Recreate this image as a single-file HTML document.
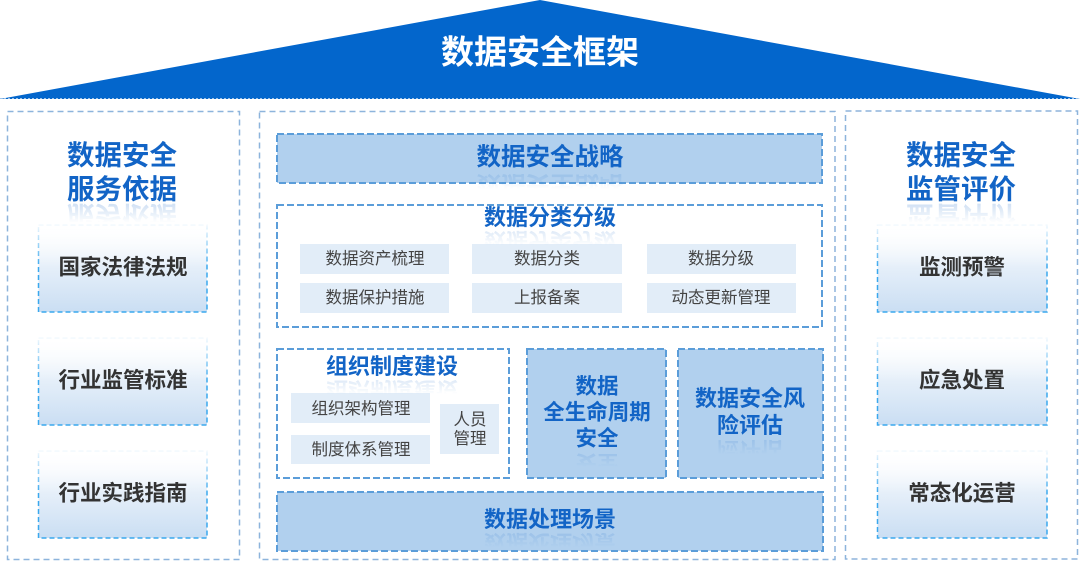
<!DOCTYPE html>
<html><head><meta charset="utf-8">
<style>
html,body{margin:0;padding:0;background:#fff;}
#c{position:relative;width:1080px;height:561px;overflow:hidden;background:#fff;font-family:"Liberation Sans","Noto Sans CJK SC",sans-serif;}
svg{position:absolute;left:0;top:0;}
.t{position:absolute;white-space:nowrap;line-height:1;transform:translate(-50%,-50%);}
.b{font-weight:700;color:#1264c6;}
.d{font-weight:700;color:#333;font-size:21.5px;}
.i{color:#444;font-size:16.5px;}
.r{position:absolute;white-space:nowrap;line-height:1;transform:translate(-50%,0) scaleY(-1);opacity:.22;font-weight:700;color:#1264c6;
-webkit-mask-image:linear-gradient(to top,rgba(0,0,0,1),rgba(0,0,0,0) 75%);mask-image:linear-gradient(to top,rgba(0,0,0,1),rgba(0,0,0,0) 75%);}
</style></head><body>
<div id="c">
<svg width="1080" height="561" viewBox="0 0 1080 561">
<defs>
<linearGradient id="sg" x1="0" y1="0" x2="0" y2="1">
<stop offset="0" stop-color="#ffffff"/>
<stop offset="1" stop-color="#cadef3"/>
</linearGradient>
<linearGradient id="fade" x1="0" y1="0" x2="0" y2="1">
<stop offset="0" stop-color="#ffffff" stop-opacity="1"/>
<stop offset="1" stop-color="#ffffff" stop-opacity="0"/>
</linearGradient>
</defs>
<polygon points="0,99 540,0 1080,99" fill="#0366cc"/>
<line x1="0" y1="98.5" x2="1080" y2="98.5" stroke="#9cc3ea" stroke-width="1" stroke-dasharray="2 2"/>
<g fill="none" stroke="#8db4dc" stroke-width="1.5" stroke-dasharray="6 4">
<rect x="7.5" y="111.5" width="232" height="448"/>
<rect x="259.5" y="111.5" width="575.5" height="448"/>
<rect x="845.5" y="111" width="232" height="448"/>
</g>
<g stroke="#5b9dd9" stroke-width="2" stroke-dasharray="7 3">
<rect x="277" y="134" width="545" height="49" fill="#b1d0ee"/>
<rect x="277" y="205" width="545" height="122" fill="#fff"/>
<rect x="277" y="349" width="232" height="129" fill="#fff"/>
<rect x="527" y="349" width="139" height="129" fill="#b1d0ee"/>
<rect x="678" y="349" width="145" height="129" fill="#b1d0ee"/>
<rect x="277" y="492" width="546" height="59" fill="#b1d0ee"/>
</g>
<g fill="#e2edf8">
<rect x="300" y="244" width="149" height="30"/>
<rect x="472" y="244" width="150" height="30"/>
<rect x="647" y="244" width="149" height="30"/>
<rect x="300" y="283" width="149" height="30"/>
<rect x="472" y="283" width="150" height="30"/>
<rect x="647" y="283" width="149" height="30"/>
<rect x="291" y="393" width="139" height="30"/>
<rect x="291" y="435" width="139" height="29"/>
<rect x="440" y="404" width="59" height="50"/>
</g>
<g fill="url(#sg)" stroke="#3aa8ee" stroke-width="1.5" stroke-dasharray="5 3">
<rect x="38.5" y="225" width="168.5" height="87"/>
<rect x="38.5" y="338" width="168.5" height="87"/>
<rect x="38.5" y="451" width="168.5" height="87"/>
<rect x="877.5" y="225" width="169.5" height="87"/>
<rect x="877.5" y="338" width="169.5" height="87"/>
<rect x="877.5" y="451" width="169.5" height="87"/>
</g>
<g fill="url(#fade)">
<rect x="35" y="222" width="176" height="45"/>
<rect x="35" y="335" width="176" height="45"/>
<rect x="35" y="448" width="176" height="45"/>
<rect x="874" y="222" width="177" height="45"/>
<rect x="874" y="335" width="177" height="45"/>
<rect x="874" y="448" width="177" height="45"/>
</g>
</svg>

<div class="t" style="left:540px;top:52px;font-size:33px;font-weight:700;color:#fff;">数据安全框架</div>

<div class="t b" style="left:122px;top:155px;font-size:27.5px;">数据安全</div>
<div class="t b" style="left:122px;top:189px;font-size:27.5px;">服务依据</div>
<div class="r" style="left:122px;top:202px;font-size:27.5px;">服务依据</div>
<div class="t b" style="left:961px;top:155px;font-size:27.5px;">数据安全</div>
<div class="t b" style="left:961px;top:189px;font-size:27.5px;">监管评价</div>
<div class="r" style="left:961px;top:202px;font-size:27.5px;">监管评价</div>

<div class="t d" style="left:123px;top:268px;">国家法律法规</div>
<div class="t d" style="left:123px;top:381px;">行业监管标准</div>
<div class="t d" style="left:123px;top:494px;">行业实践指南</div>
<div class="t d" style="left:962px;top:268px;">监测预警</div>
<div class="t d" style="left:962px;top:381px;">应急处置</div>
<div class="t d" style="left:962px;top:494px;">常态化运营</div>

<div class="t b" style="left:550px;top:158px;font-size:24.5px;">数据安全战略</div>
<div class="r" style="left:550px;top:171px;font-size:24.5px;opacity:.15;">数据安全战略</div>

<div class="t b" style="left:550px;top:218px;font-size:22px;">数据分类分级</div>
<div class="r" style="left:550px;top:229px;font-size:22px;opacity:.15;">数据分类分级</div>

<div class="t i" style="left:375px;top:259px;">数据资产梳理</div>
<div class="t i" style="left:547px;top:259px;">数据分类</div>
<div class="t i" style="left:721px;top:259px;">数据分级</div>
<div class="t i" style="left:375px;top:298px;">数据保护措施</div>
<div class="t i" style="left:547px;top:298px;">上报备案</div>
<div class="t i" style="left:721px;top:298px;">动态更新管理</div>

<div class="t b" style="left:392px;top:367px;font-size:22px;">组织制度建设</div>
<div class="r" style="left:392px;top:378px;font-size:22px;opacity:.15;">组织制度建设</div>
<div class="t i" style="left:361px;top:409px;">组织架构管理</div>
<div class="t i" style="left:361px;top:450px;">制度体系管理</div>
<div class="t i" style="left:470px;top:420px;">人员</div>
<div class="t i" style="left:470px;top:439px;">管理</div>

<div class="t b" style="left:597px;top:387px;font-size:21.5px;">数据</div>
<div class="t b" style="left:597px;top:413px;font-size:21.5px;">全生命周期</div>
<div class="t b" style="left:597px;top:439px;font-size:21.5px;">安全</div>
<div class="r" style="left:597px;top:451px;font-size:21.5px;opacity:.15;">安全</div>

<div class="t b" style="left:750px;top:399px;font-size:22px;">数据安全风</div>
<div class="t b" style="left:750px;top:426px;font-size:22px;">险评估</div>
<div class="r" style="left:750px;top:438px;font-size:22px;opacity:.15;">险评估</div>

<div class="t b" style="left:550px;top:520px;font-size:22px;">数据处理场景</div>
<div class="r" style="left:550px;top:531px;font-size:22px;opacity:.15;">数据处理场景</div>
</div>
</body></html>
